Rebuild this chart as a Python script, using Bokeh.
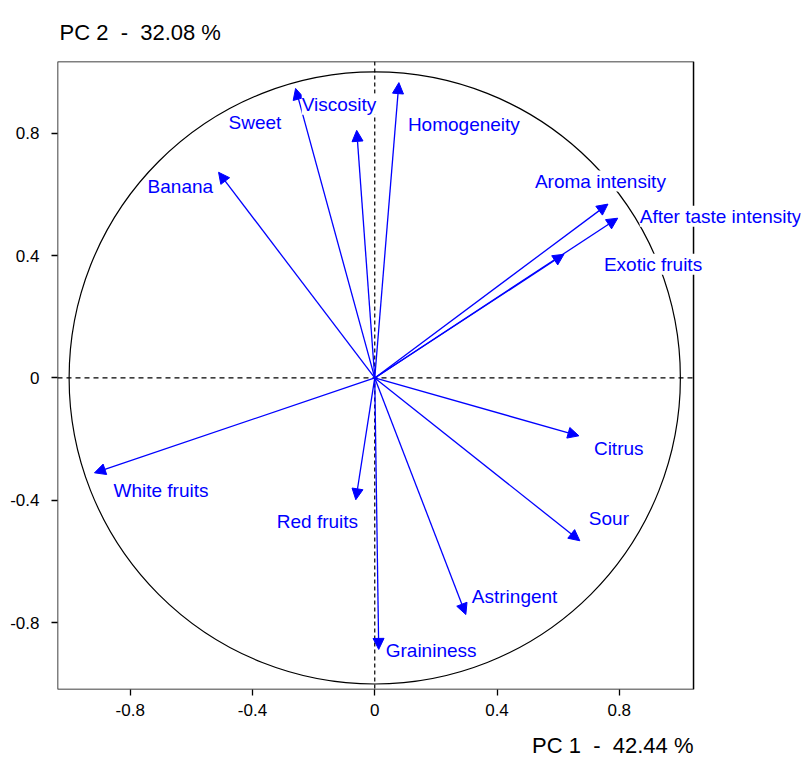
from bokeh.plotting import figure
from bokeh.models import (ColumnDataSource, Range1d, Span, Arrow, NormalHead,
                          Label, Title, FixedTicker, BoxAnnotation)
from bokeh.embed import file_html
from bokeh.resources import INLINE

# ---- data ----
variables = ["Sweet", "Viscosity", "Homogeneity", "Banana", "Aroma intensity",
             "After taste intensity", "Exotic fruits", "Citrus", "Sour",
             "Astringent", "Graininess", "Red fruits", "White fruits"]
pc1 = [-0.259, -0.059, 0.079, -0.511, 0.763, 0.795, 0.619, 0.668, 0.671,
       0.298, 0.013, -0.062, -0.917]
pc2 = [0.946, 0.809, 0.965, 0.672, 0.568, 0.522, 0.404, -0.189, -0.532,
       -0.773, -0.887, -0.398, -0.310]
tick_values = [-0.8, -0.4, 0, 0.4, 0.8]
tick_labels = ["-0.8", "-0.4", "0", "0.4", "0.8"]
x_title = "PC 1 \u00a0-\u00a0 42.44 %"
y_title = "PC 2 \u00a0-\u00a0 32.08 %"

# axis box limits
X_LO, X_HI = -1.038, 1.043
Y_LO, Y_HI = -1.018, 1.034

# label offsets (screen px, styling)
label_dx = [-67, -55, 9, -71, -73, 22, 40, 15, 9, 6, 7, -79, 19]
label_dy = [-34, 26, -42, -14, 23, 2, -10, -13, 22, 18, -1, -22, -18]

FONT = "Liberation Sans"
BLUE = "#0000FF"

# frame is extended to the right so labels beyond the box are not clipped
p = figure(width=805, height=770, output_backend="svg", toolbar_location=None,
           x_range=Range1d(X_LO, 1.393), y_range=Range1d(Y_LO, Y_HI),
           min_border_left=57, min_border_right=5, min_border_top=61,
           min_border_bottom=80)
p.grid.visible = False
p.outline_line_color = None

for ax in (p.xaxis[0], p.yaxis[0]):
    ax.ticker = FixedTicker(ticks=tick_values)
    ax.major_label_overrides = {v: l for v, l in zip(tick_values, tick_labels)}
    ax.minor_tick_line_color = None
    ax.major_tick_in = 0
    ax.major_tick_out = 6
    ax.major_tick_line_color = "black"
    ax.major_tick_line_width = 1.3
    ax.axis_line_color = None
    ax.major_label_text_font = FONT
    ax.major_label_text_font_size = "17px"
    ax.major_label_text_color = "black"
p.yaxis[0].major_label_standoff = 12
p.xaxis[0].major_label_standoff = 8

# plot box
p.add_layout(BoxAnnotation(left=X_LO, right=X_HI, bottom=Y_LO, top=Y_HI,
                           fill_color=None, line_color="black", line_width=1.5,
                           line_alpha=1))

# zero lines
p.segment(x0=[X_LO], y0=[0], x1=[X_HI], y1=[0], line_color="black",
          line_dash="5 4", line_width=1.2)
p.add_layout(Span(location=0, dimension="height", line_color="black",
                  line_dash="4 3", line_width=1.2))

# correlation circle
p.ellipse(x=[0], y=[0], width=[2], height=[2], fill_color=None,
          line_color="black", line_width=1.2)

src = ColumnDataSource(dict(x0=[0] * len(pc1), y0=[0] * len(pc1), x=pc1, y=pc2))

p.add_layout(Arrow(end=NormalHead(size=11, fill_color=BLUE, line_color=BLUE,
                                  line_width=1),
                   x_start="x0", y_start="y0", x_end="x", y_end="y",
                   line_color=BLUE, line_width=1.3, source=src))

for name, x, y, dx, dy in zip(variables, pc1, pc2, label_dx, label_dy):
    p.add_layout(Label(x=x, y=y, text=name, x_offset=dx, y_offset=dy,
                       text_font=FONT, text_font_size="19px", text_color=BLUE,
                       text_baseline="middle", text_align="left",
                       background_fill_color="white"))

p.add_layout(Title(text=y_title, align="left", text_font=FONT,
                   text_font_size="22px", text_font_style="normal",
                   text_color="black", standoff=34, offset=2), "above")
p.add_layout(Title(text=x_title, align="right", text_font=FONT,
                   text_font_size="22px", text_font_style="normal",
                   text_color="black", standoff=25, offset=107), "below")

open("out.html", "w").write(file_html(p, INLINE))
